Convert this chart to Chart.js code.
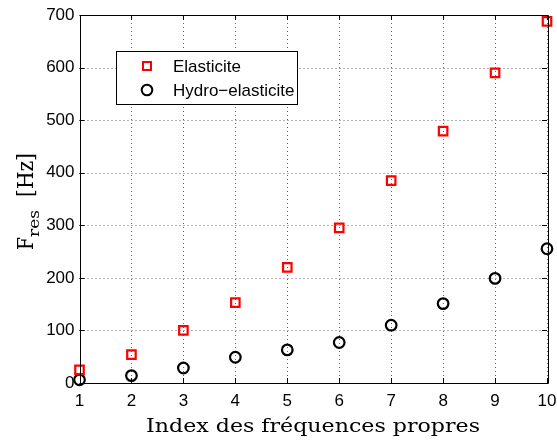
<!DOCTYPE html>
<html>
<head>
<meta charset="utf-8">
<script src="https://cdn.jsdelivr.net/npm/chart.js@4.4.0/dist/chart.umd.min.js"></script>
<style>
html,body{margin:0;padding:0;background:#fff;}
#wrap{width:557px;height:442px;position:relative;}
</style>
</head>
<body>
<div id="wrap"><canvas id="c" width="557" height="442"></canvas></div>
<script>
const modeIndex = [1,2,3,4,5,6,7,8,9,10];
const elasticite = [25,54,100,153,220,295,385,479,590,688];
const hydroElasticite = [6,14,28.5,49,63,77,110,151,199,255.5];
const xTicks = [1,2,3,4,5,6,7,8,9,10];
const yTicks = [0,100,200,300,400,500,600,700];
const seriesLabels = ['Elasticite','Hydro\u2212elasticite'];

const tickFont = {family:'"Liberation Sans", Arial, sans-serif', size:17};
const serif = '"DejaVu Serif", "Liberation Serif", serif';

function fitText(ctx, txt, x, y, target){
  const w = ctx.measureText(txt).width;
  const s = target / w;
  ctx.save();
  ctx.translate(x, y);
  ctx.scale(s, 1);
  ctx.fillText(txt, 0, 0);
  ctx.restore();
  return target;
}

const framePlugin = {
  id:'frame',
  beforeDatasetsDraw(chart){
    const {ctx, chartArea:a, scales:{x,y}} = chart;
    ctx.save();
    ctx.strokeStyle='#666';
    ctx.lineWidth=1;
    ctx.setLineDash([1,3]);
    ctx.beginPath();
    xTicks.forEach(v=>{
      const px=Math.round(x.getPixelForValue(v))+0.5;
      ctx.moveTo(px,a.top); ctx.lineTo(px,a.bottom);
    });
    yTicks.forEach(v=>{
      const py=Math.round(y.getPixelForValue(v))+0.5;
      ctx.moveTo(a.left,py); ctx.lineTo(a.right,py);
    });
    ctx.stroke();
    ctx.restore();
  },
  afterDatasetsDraw(chart){
    const {ctx, chartArea:a, scales:{x,y}} = chart;
    ctx.save();
    ctx.strokeStyle='#000';
    ctx.lineWidth=1;
    ctx.setLineDash([]);
    ctx.beginPath();
    ctx.rect(Math.round(a.left)+0.5, Math.round(a.top)+0.5, Math.round(a.right-a.left), Math.round(a.bottom-a.top));
    ctx.stroke();
    const tl=5;
    ctx.beginPath();
    xTicks.forEach(v=>{
      const px=Math.round(x.getPixelForValue(v))+0.5;
      ctx.moveTo(px,a.bottom); ctx.lineTo(px,a.bottom-tl);
      ctx.moveTo(px,a.top); ctx.lineTo(px,a.top+tl);
    });
    yTicks.forEach(v=>{
      const py=Math.round(y.getPixelForValue(v))+0.5;
      ctx.moveTo(a.left,py); ctx.lineTo(a.left+tl,py);
      ctx.moveTo(a.right,py); ctx.lineTo(a.right-tl,py);
    });
    ctx.stroke();
    // legend
    const lx=116, ly=51, lw=181, lh=53;
    ctx.fillStyle='#fff';
    ctx.fillRect(lx,ly,lw,lh);
    ctx.strokeRect(lx+0.5,ly+0.5,lw,lh);
    ctx.font='17px "Liberation Sans", Arial, sans-serif';
    ctx.textBaseline='middle';
    ctx.textAlign='left';
    const rows=[ly+15, ly+39];
    chart.data.datasets.forEach((ds,i)=>{
      const cy=rows[i], cx=147;
      ctx.lineWidth=2;
      ctx.strokeStyle=ds.borderColor;
      if(ds.pointStyle==='rect'){
        ctx.strokeRect(cx-4,cy-4,8,8);
      } else {
        ctx.beginPath(); ctx.arc(cx,cy,5.3,0,Math.PI*2); ctx.stroke();
      }
      ctx.fillStyle='#000';
      ctx.fillText(ds.label, 173, cy+1);
    });
    ctx.restore();
  },
  afterDraw(chart){
    const {ctx} = chart;
    ctx.save();
    ctx.fillStyle='#000';
    ctx.textAlign='left';
    ctx.textBaseline='alphabetic';
    ctx.font='19px '+serif;
    fitText(ctx, 'Index des fr\u00e9quences propres', 146, 432, 334);
    ctx.translate(33, 250);
    ctx.rotate(-Math.PI/2);
    ctx.font='22px '+serif;
    fitText(ctx, 'F', 0, 0, 13);
    ctx.font='15px '+serif;
    fitText(ctx, 'res', 13, 6, 27);
    ctx.font='22px '+serif;
    fitText(ctx, '[Hz]', 53, 0, 44);
    ctx.restore();
  }
};

new Chart(document.getElementById('c'),{
  type:'scatter',
  data:{
    datasets:[
      {label:seriesLabels[0], data:modeIndex.map((m,i)=>({x:m,y:elasticite[i]})),
       pointStyle:'rect', borderColor:'#ff0000', backgroundColor:'rgba(0,0,0,0)',
       pointRadius:6, pointBorderWidth:2.2, pointHoverRadius:6, clip:false},
      {label:seriesLabels[1], data:modeIndex.map((m,i)=>({x:m,y:hydroElasticite[i]})),
       pointStyle:'circle', borderColor:'#000000', backgroundColor:'rgba(0,0,0,0)',
       pointRadius:5.3, pointBorderWidth:2.2, pointHoverRadius:5.3, clip:false}
    ]
  },
  options:{
    responsive:false, animation:false, events:[],
    layout:{padding:{top:15,right:10,left:0,bottom:0}},
    plugins:{legend:{display:false}, tooltip:{enabled:false}},
    scales:{
      x:{type:'linear', min:1, max:10,
         afterBuildTicks(s){ s.ticks = xTicks.map(v=>({value:v})); },
         afterFit(s){ s.height=59; s.paddingLeft=0; s.paddingRight=0; },
         grid:{display:false, drawTicks:false},
         border:{display:false},
         ticks:{font:tickFont, color:'#000', padding:8, maxRotation:0, autoSkip:false}},
      y:{type:'linear', min:0, max:700,
         afterBuildTicks(s){ s.ticks = yTicks.map(v=>({value:v})); },
         afterFit(s){ s.width=79.5; s.paddingTop=0; s.paddingBottom=0; },
         grid:{display:false, drawTicks:false},
         border:{display:false},
         ticks:{font:tickFont, color:'#000', padding:5}}
    }
  },
  plugins:[framePlugin]
});
</script>
</body>
</html>
